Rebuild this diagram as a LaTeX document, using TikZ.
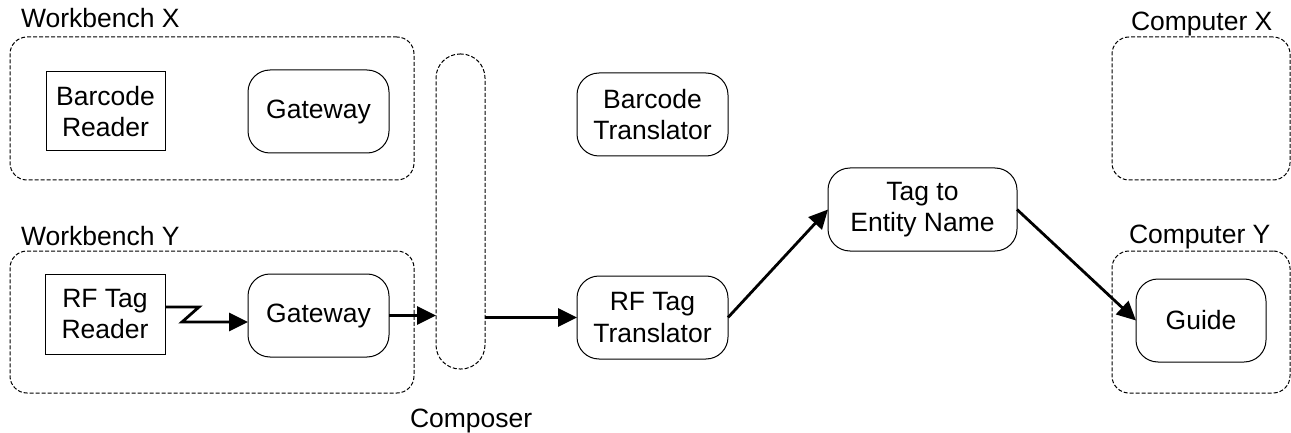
\documentclass[tikz,border=0pt]{standalone}
\usepackage{fontspec}
\setmainfont{Liberation Sans}
\usetikzlibrary{arrows.meta}
\begin{document}
\begin{tikzpicture}[x=1pt,y=-1pt,
  every node/.style={inner sep=0pt, outer sep=0pt, align=center,
    font=\fontsize{26.5}{31.5}\selectfont},
  svc/.style={draw, line width=1pt, rounded corners=22pt},
  grp/.style={draw, line width=1pt, dash pattern=on 4pt off 2pt, rounded corners=17pt},
  grplabel/.style={anchor=base west},
  flow/.style={line width=2.8pt, -{Triangle[length=19pt,width=18pt]}}
]
\useasboundingbox (0,0) rectangle (1291,433);

% groups
\node[grp, minimum width=404pt, minimum height=143pt] (wbx) at (212,108.5) {};
\node[grp, minimum width=404pt, minimum height=142pt] (wby) at (212,322) {};
\node[grp, minimum width=178pt, minimum height=143pt] (cpx) at (1201,108.5) {};
\node[grp, minimum width=178pt, minimum height=142pt] (cpy) at (1201,322) {};
\node[grp, rounded corners=24pt, minimum width=49pt, minimum height=315pt] (comp) at (460.5,211.5) {};

% group labels
\node[grplabel] (lwbx) at (21,28) {Workbench X};
\node[grplabel] (lwby) at (21,245) {Workbench Y};
\node[grplabel] (lcpx) at (1131,31) {Computer X};
\node[grplabel] (lcpy) at (1129,243) {Computer Y};
\node[grplabel] (lcomp) at (410,427) {Composer};

% components
\node[draw, line width=1pt, minimum width=119pt, minimum height=79pt] (bcr) at (105.5,111.5) {Barcode\\Reader};
\node[svc, minimum width=141pt, minimum height=83pt] (gwx) at (318.5,111.5) {Gateway};
\node[draw, line width=1pt, minimum width=120pt, minimum height=80pt] (rfr) at (105,314) {RF Tag\\Reader};
\node[svc, minimum width=141pt, minimum height=83pt] (gwy) at (318.5,315.5) {Gateway};
\node[svc, minimum width=151pt, minimum height=83pt] (bct) at (652.5,114.5) {Barcode\\Translator};
\node[svc, minimum width=151pt, minimum height=83pt] (rft) at (652.5,317.5) {RF Tag\\Translator};
\node[svc, minimum width=189pt, minimum height=83pt] (tte) at (922.5,209.5) {Tag to\\Entity Name};
\node[svc, minimum width=130pt, minimum height=83pt] (gde) at (1201,320.5) {Guide};

% data flow
\draw[flow] ([yshift=7pt]rfr.east) -- ++(34,0) -- ++(-17,15) -- ([yshift=-6.5pt]gwy.west);
\draw[flow] (gwy.east) -- (comp.west |- gwy.east);
\draw[flow] (comp.east |- rft.west) -- (rft.west);
\draw[flow] (rft.east) -- (tte.west);
\draw[flow] (tte.east) -- (gde.west);
\end{tikzpicture}
\end{document}
